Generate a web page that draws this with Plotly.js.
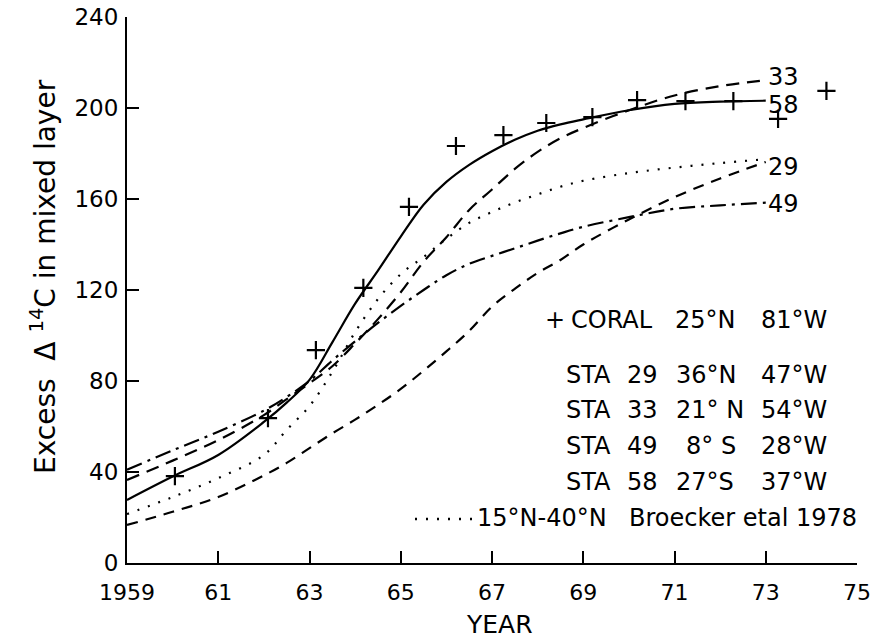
<!DOCTYPE html>
<html>
<head>
<meta charset="utf-8">
<script src="https://cdn.plot.ly/plotly-3.0.1.min.js"></script>
<style>
html,body{margin:0;padding:0;background:#fff;}
#chart{width:876px;height:644px;}
</style>
</head>
<body>
<div id="chart"></div>
<script>
// ---- data ----
const years = [1959, 1960, 1961, 1962, 1962.5, 1963, 1963.5, 1964, 1964.5, 1965, 1965.5,
               1966, 1966.5, 1967, 1967.5, 1968, 1968.5, 1969, 1970, 1971, 1972, 1973];
const sta58 = [27.7, 38, 47.5, 62, 70.5, 80.5, 97, 114, 128.5, 143.5, 157.5,
               167.5, 175, 181, 186, 190, 192.8, 195, 199, 201.8, 202.8, 203.2];
const sta33 = [36.5, 45, 54, 65, 72, 79, 86.5, 96.5, 107.2, 119, 132.4,
               143.2, 155.2, 164.2, 173.2, 180.7, 186.7, 191.2, 199, 205.5, 209.6, 212.2];
const sta49 = [41, 49.5, 57.7, 67, 73, 80, 89, 97.5, 105.5, 113, 120,
               126.5, 131.5, 135, 138.3, 141.7, 144.9, 147.8, 152, 155.7, 157.2, 158.4];
const broecker = [21.5, 29, 37.3, 47.5, 58.5, 69, 84, 101.5, 116, 127, 134.5,
               142.5, 149.5, 154.3, 158.5, 162, 165.4, 168, 171.4, 173.8, 175.8, 177.5];
const sta29 = [16.7, 22.5, 29, 38.5, 44, 50.5, 57, 63, 69.5, 76.5, 84.5,
               93, 102, 112.7, 120.5, 127.5, 133.2, 140, 151, 160.8, 169, 176.3];
const coralYears = [1960.05, 1962.09, 1963.14, 1964.18, 1965.18, 1966.21, 1967.25,
                    1968.19, 1969.2, 1970.18, 1971.24, 1972.29, 1973.27, 1974.33];
const coralVals = [38.2, 63.7, 93.6, 120.9, 156.5, 183.3, 188.1,
                   193.4, 196, 203.5, 203, 203, 195.2, 207.5];
const tickYears = [1959, 1961, 1963, 1965, 1967, 1969, 1971, 1973, 1975];
const tickYearText = ["1959", "61", "63", "65", "67", "69", "71", "73", "75"];
const tickVals = [0, 40, 80, 120, 160, 200, 240];
const curveLabels = ["33", "58", "29", "49"];
const curveLabelVals = [213.6, 201.3, 174, 158];
const legendRows = [
  ["STA", "29", "36°N", "47°W"],
  ["STA", "33", "21° N", "54°W"],
  ["STA", "49", "8° S", "28°W"],
  ["STA", "58", "27°S", "37°W"]
];

// ---- layout helpers (pixel -> paper) ----
const L = 127, R = 19, T = 17, B = 81, W = 876, H = 644;
const PW = W - L - R, PH = H - T - B;
const px = x => (x - L) / PW;
const py = y => (H - B - y) / PH;

const FONT = "DejaVu Sans";
const black = "#000";

function line(y, dash, name) {
  return {
    x: years, y: y, type: "scatter", mode: "lines", name: name,
    line: {color: black, width: 2.2, dash: dash, shape: "spline", smoothing: 1},
    hoverinfo: "skip"
  };
}

const traces = [
  line(sta29, "11px,8px", "STA 29"),
  line(broecker, "2px,9px", "Broecker"),
  line(sta49, "16px,6px,3px,6px", "STA 49"),
  line(sta33, "13px,8px", "STA 33"),
  line(sta58, "solid", "STA 58"),
  {
    x: coralYears, y: coralVals, type: "scatter", mode: "markers", name: "Coral",
    marker: {symbol: "cross-thin", size: 13, color: black, line: {color: black, width: 2.2}},
    hoverinfo: "skip"
  }
];

const ann = [];
const tf = (s) => ({family: FONT, size: s, color: black});

// y-axis title
ann.push({xref: "paper", yref: "paper", x: px(43), y: py(277), text: "Excess  Δ <sup>14</sup>C in mixed layer",
  textangle: -90, showarrow: false, font: tf(28), xanchor: "center", yanchor: "middle"});
// x-axis title
ann.push({xref: "paper", yref: "paper", x: px(499), y: py(624), text: "YEAR",
  showarrow: false, font: tf(25), xanchor: "center", yanchor: "middle"});

// curve end labels
curveLabels.forEach((t, i) => {
  ann.push({xref: "x", yref: "y", x: 1973.1, y: curveLabelVals[i], text: t, showarrow: false,
    font: tf(24), xanchor: "left", yanchor: "middle", xshift: -4});
});

// legend block
ann.push({xref: "paper", yref: "paper", x: px(555), y: py(320), text: "+", showarrow: false,
  font: tf(24), xanchor: "center", yanchor: "middle"});
[["CORAL", 572], ["25°N", 676], ["81°W", 762]].forEach(([t, x]) => {
  ann.push({xref: "paper", yref: "paper", x: px(x), y: py(320), text: t, showarrow: false,
    font: tf(24), xanchor: "left", yanchor: "middle", xshift: -3});
});
const rowY = [375, 410, 446, 482];
const colX = [567, 628, 677, 762];
legendRows.forEach((row, r) => {
  row.forEach((t, c) => {
    let x = colX[c];
    if (t === "8° S") x = 687;
    ann.push({xref: "paper", yref: "paper", x: px(x), y: py(rowY[r]), text: t, showarrow: false,
      font: tf(24), xanchor: "left", yanchor: "middle", xshift: -3});
  });
});
ann.push({xref: "paper", yref: "paper", x: px(478), y: py(518), text: "15°N-40°N", showarrow: false,
  font: tf(24), xanchor: "left", yanchor: "middle", xshift: -3});
ann.push({xref: "paper", yref: "paper", x: px(630), y: py(518), text: "Broecker etal 1978", showarrow: false,
  font: tf(24), xanchor: "left", yanchor: "middle", xshift: -3});

// dotted legend glyph for Broecker curve
const shapes = [{
  type: "line", xref: "paper", yref: "paper",
  x0: px(415), x1: px(472), y0: py(519), y1: py(519),
  line: {color: black, width: 2.5, dash: "2px,9px"}
}];

const layout = {
  width: W, height: H,
  margin: {l: L, r: R, t: T, b: B, pad: 0},
  paper_bgcolor: "#fff", plot_bgcolor: "#fff",
  showlegend: false,
  font: {family: FONT, color: black},
  xaxis: {
    range: [1959, 1975], showgrid: false, zeroline: false,
    showline: true, linecolor: black, linewidth: 2,
    ticks: "inside", ticklen: 12, tickwidth: 2, tickcolor: black,
    tickvals: tickYears, ticktext: tickYearText,
    tickfont: {family: FONT, size: 22, color: black},
    ticklabelstandoff: 9
  },
  yaxis: {
    range: [0, 240], showgrid: false, zeroline: false,
    showline: true, linecolor: black, linewidth: 2,
    ticks: "inside", ticklen: 12, tickwidth: 2, tickcolor: black,
    tickvals: tickVals,
    tickfont: {family: FONT, size: 23, color: black},
    ticklabelstandoff: 2
  },
  shapes: shapes,
  annotations: ann
};

Plotly.newPlot("chart", traces, layout, {displayModeBar: false, staticPlot: true});
</script>
</body>
</html>
